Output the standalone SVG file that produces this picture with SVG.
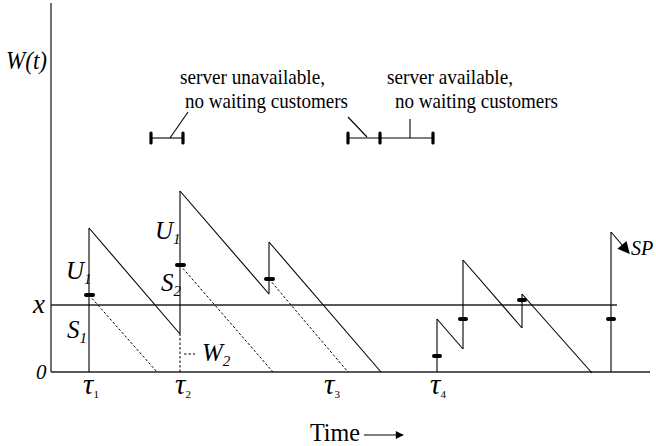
<svg xmlns="http://www.w3.org/2000/svg" width="656" height="446" viewBox="0 0 656 446">
  <style>
    .ax { stroke: #222; stroke-width: 1.3; fill: none; }
    .ln { stroke: #000; stroke-width: 1.1; fill: none; }
    .dash { stroke: #000; stroke-width: 1; fill: none; stroke-dasharray: 2.5 2; }
    .mk { stroke: #000; stroke-width: 4; stroke-linecap: round; }
    .tk { stroke: #000; stroke-width: 3.2; stroke-linecap: round; }
    text { fill: #000; }
    .it { font-style: italic; }
  </style>
  <defs>
    <marker id="ah" viewBox="0 0 10 10" refX="9" refY="5" markerWidth="11" markerHeight="8" orient="auto" markerUnits="userSpaceOnUse">
      <path d="M0,0 L10,5 L0,10 z" fill="#000"/>
    </marker>
    <marker id="ah2" viewBox="0 0 10 10" refX="9" refY="5" markerWidth="14" markerHeight="12" orient="auto" markerUnits="userSpaceOnUse">
      <path d="M0,0 L10,5 L0,10 z" fill="#000"/>
    </marker>
  </defs>

  <g font-family="Liberation Serif, serif">
  <!-- axes and threshold -->
  <g id="axes">
    <line class="ax" x1="51" y1="3" x2="51" y2="372"/>
    <line class="ax" x1="51" y1="372" x2="650" y2="372"/>
    <line class="ax" x1="51" y1="305" x2="617" y2="305"/>
    <text class="it" x="6" y="69" font-size="26" textLength="41" lengthAdjust="spacingAndGlyphs">W(t)</text>
    <text class="it" x="33" y="313" font-size="28" textLength="12" lengthAdjust="spacingAndGlyphs">x</text>
    <text class="it" x="36" y="379" font-size="21">0</text>
  </g>

  <!-- workload sample path -->
  <g id="connectors">
    <!-- arrival 1 -->
    <line class="ln" x1="89" y1="372" x2="89" y2="228"/>
    <line class="ln" x1="89" y1="228" x2="180" y2="334"/>
    <line class="dash" x1="89" y1="295" x2="157" y2="372"/>
    <!-- arrival 2 -->
    <line class="dash" x1="180" y1="372" x2="180" y2="334"/>
    <line class="ln" x1="180" y1="334" x2="180" y2="191"/>
    <line class="ln" x1="180" y1="191" x2="269" y2="294"/>
    <line class="dash" x1="180" y1="265" x2="273" y2="372"/>
    <line class="dash" x1="184" y1="354" x2="195" y2="354"/>
    <!-- arrival 3 -->
    <line class="ln" x1="269" y1="294" x2="269" y2="242"/>
    <line class="ln" x1="269" y1="242" x2="381" y2="372"/>
    <line class="dash" x1="269" y1="279" x2="348" y2="372"/>
    <!-- arrivals after tau4 -->
    <line class="ln" x1="437" y1="372" x2="437" y2="319"/>
    <line class="ln" x1="437" y1="319" x2="463" y2="349"/>
    <line class="ln" x1="463" y1="349" x2="463" y2="260"/>
    <line class="ln" x1="463" y1="260" x2="522" y2="328"/>
    <line class="ln" x1="522" y1="328" x2="522" y2="294"/>
    <line class="ln" x1="522" y1="294" x2="592" y2="373"/>
    <!-- SP jump -->
    <line class="ln" x1="611" y1="372" x2="611" y2="232"/>
    <line class="ln" x1="611" y1="232" x2="629" y2="253" marker-end="url(#ah2)"/>
    <!-- availability brackets -->
    <line class="ln" x1="151" y1="138" x2="183" y2="138"/>
    <line class="ln" x1="170" y1="138" x2="188" y2="112"/>
    <line class="ln" x1="348" y1="138" x2="433" y2="138"/>
    <line class="ln" x1="367" y1="137" x2="348" y2="117"/>
    <line class="ln" x1="410" y1="138" x2="410" y2="119"/>
    <!-- time arrow -->
    <line class="ln" x1="364" y1="435" x2="403" y2="435" marker-end="url(#ah)"/>
  </g>

  <!-- service-start markers -->
  <g id="markers">
    <line class="mk" x1="86" y1="295" x2="93" y2="295"/>
    <line class="mk" x1="177" y1="265" x2="184" y2="265"/>
    <line class="mk" x1="266" y1="279" x2="273" y2="279"/>
    <line class="mk" x1="434" y1="356" x2="440" y2="356"/>
    <line class="mk" x1="460" y1="319" x2="466" y2="319"/>
    <line class="mk" x1="519" y1="300" x2="525" y2="300"/>
    <line class="mk" x1="608" y1="319" x2="614" y2="319"/>
  </g>

  <g id="bracket-unavailable">
    <line class="tk" x1="151" y1="133" x2="151" y2="143"/>
    <line class="tk" x1="183" y1="133" x2="183" y2="143"/>
    <text x="180" y="84" font-size="21" textLength="145" lengthAdjust="spacingAndGlyphs">server unavailable,</text>
    <text x="185" y="108" font-size="21" textLength="163" lengthAdjust="spacingAndGlyphs">no waiting customers</text>
  </g>

  <g id="bracket-available">
    <line class="tk" x1="348" y1="133" x2="348" y2="143"/>
    <line class="tk" x1="380" y1="133" x2="380" y2="143"/>
    <line class="tk" x1="433" y1="133" x2="433" y2="143"/>
    <text x="387" y="84" font-size="21" textLength="126" lengthAdjust="spacingAndGlyphs">server available,</text>
    <text x="395" y="108" font-size="21" textLength="163" lengthAdjust="spacingAndGlyphs">no waiting customers</text>
  </g>

  <g id="labels">
    <text class="it" x="66" y="279" font-size="25">U<tspan font-size="15" dy="5">1</tspan></text>
    <text class="it" x="67" y="338" font-size="25">S<tspan font-size="15" dy="5">1</tspan></text>
    <text class="it" x="155" y="239" font-size="25">U<tspan font-size="15" dy="5">1</tspan></text>
    <text class="it" x="161" y="291" font-size="25">S<tspan font-size="15" dy="5">2</tspan></text>
    <text class="it" x="202" y="361" font-size="25">W<tspan font-size="15" dy="5">2</tspan></text>
    <text class="it" x="631" y="255" font-size="20">SP</text>
  </g>

  <g id="time-labels">
    <text class="it" x="83" y="394" font-size="29">τ<tspan font-size="11" font-style="normal" dy="4">1</tspan></text>
    <text class="it" x="175" y="394" font-size="29">τ<tspan font-size="11" font-style="normal" dy="4">2</tspan></text>
    <text class="it" x="324" y="394" font-size="29">τ<tspan font-size="11" font-style="normal" dy="4">3</tspan></text>
    <text class="it" x="430" y="394" font-size="29">τ<tspan font-size="11" font-style="normal" dy="4">4</tspan></text>
    <text x="310" y="441" font-size="26" textLength="50" lengthAdjust="spacingAndGlyphs">Time</text>
  </g>
  </g>
</svg>
